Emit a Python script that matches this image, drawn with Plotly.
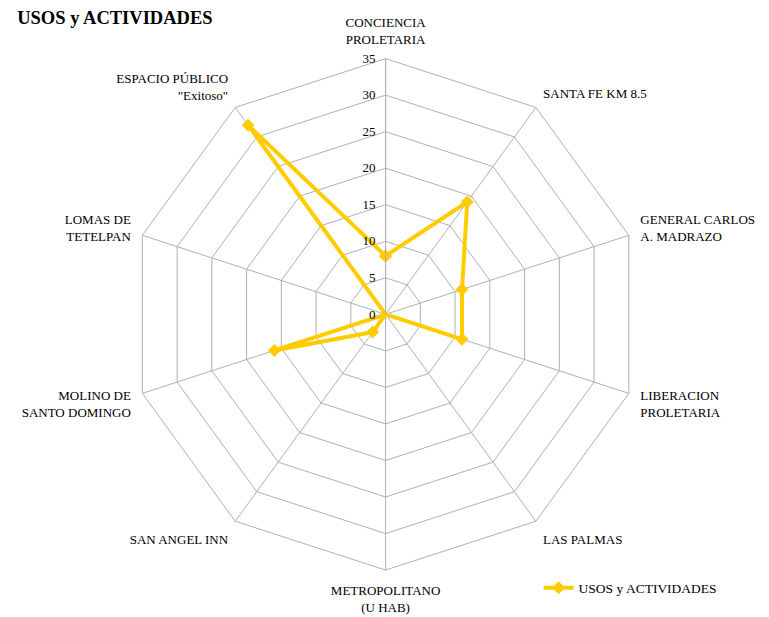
import plotly.graph_objects as go

# Data
categories = [
    "CONCIENCIA<br>PROLETARIA",
    "SANTA FE KM 8.5",
    "GENERAL CARLOS<br>A. MADRAZO",
    "LIBERACION<br>PROLETARIA",
    "LAS PALMAS",
    "METROPOLITANO<br>(U HAB)",
    "SAN ANGEL INN",
    "MOLINO DE<br>SANTO DOMINGO",
    "LOMAS DE<br>TETELPAN",
    "ESPACIO PÚBLICO<br>\"Exitoso\"",
]
usos_actividades = [8, 19, 11, 11, 0, 0, 3, 16, 0, 32]
radial_ticks = [0, 5, 10, 15, 20, 25, 30, 35]

GOLD = "#FFCC00"
GRID = "#b0b0b0"
FONT = "Liberation Serif, Times New Roman, serif"

fig = go.Figure()

# close the loop so the last point joins the first
fig.add_trace(go.Scatterpolar(
    r=usos_actividades + usos_actividades[:1],
    theta=categories + categories[:1],
    mode="lines+markers",
    name="USOS y ACTIVIDADES",
    line=dict(color=GOLD, width=4),
    marker=dict(symbol="diamond", size=10, color=GOLD),
))

fig.update_layout(
    width=769,
    height=617,
    margin=dict(l=0, r=0, t=0, b=0),
    paper_bgcolor="white",
    plot_bgcolor="white",
    font=dict(family=FONT, size=13, color="black"),
    title=dict(
        text="<b>USOS y ACTIVIDADES</b>",
        font=dict(family=FONT, size=18.5, color="black"),
        x=0.012, xanchor="left",
        y=0.984, yanchor="middle",
    ),
    polar=dict(
        domain=dict(x=[0.158, 0.824], y=[0.089, 0.918]),
        bgcolor="white",
        gridshape="linear",
        angularaxis=dict(
            direction="clockwise",
            rotation=90,
            showline=True,
            linecolor=GRID,
            linewidth=1,
            gridcolor=GRID,
            gridwidth=1,
            # invisible ticks just push the labels away from the polygon
            ticks="outside",
            ticklen=9,
            tickcolor="rgba(0,0,0,0)",
            tickfont=dict(family=FONT, size=13, color="black"),
        ),
        radialaxis=dict(
            range=[0, 35],
            tickvals=radial_ticks,
            angle=90,
            tickangle=90,
            side="counterclockwise",
            showline=True,
            linecolor=GRID,
            gridcolor=GRID,
            gridwidth=1,
            ticks="outside",
            ticklen=5,
            tickcolor="rgba(0,0,0,0)",
            tickfont=dict(family=FONT, size=13, color="black"),
        ),
    ),
    showlegend=True,
    legend=dict(
        x=0.69, y=0.06,
        xanchor="left", yanchor="middle",
        itemwidth=30,
        font=dict(family=FONT, size=13.5, color="black"),
        bgcolor="rgba(0,0,0,0)",
    ),
)

fig.write_html("out.html")
